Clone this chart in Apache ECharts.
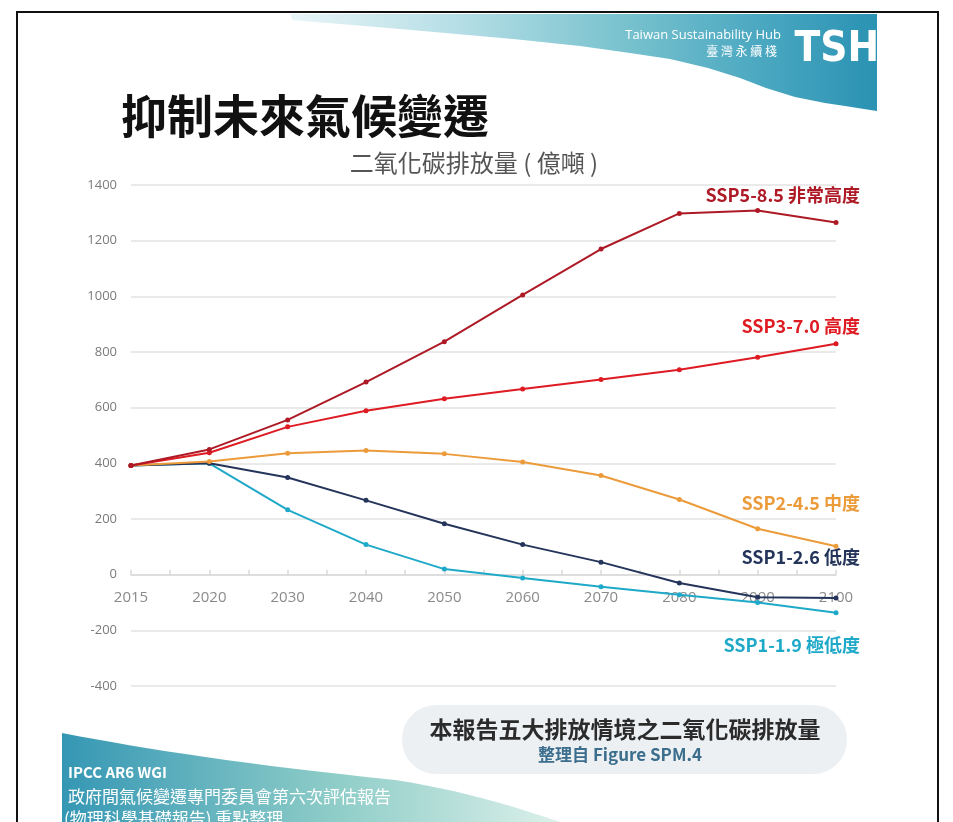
<!DOCTYPE html>
<html>
<head>
<meta charset="utf-8">
<script src="https://cdn.jsdelivr.net/npm/echarts@6/dist/echarts.min.js"></script>
<style>
  html, body { margin: 0; padding: 0; background: #fff; }
  #main { width: 953px; height: 822px; }
</style>
</head>
<body>
<div id="main"></div>
<script>
// x 軸年份 (等距)
var years = ['2015', '2020', '2030', '2040', '2050', '2060', '2070', '2080', '2090', '2100'];
var yTicks = [-400, -200, 0, 200, 400, 600, 800, 1000, 1200, 1400];

// 二氧化碳排放量 (億噸)
var ssp585 = [392, 450, 556, 692, 837, 1005, 1170, 1298, 1308, 1265];
var ssp370 = [392, 438, 531, 589, 632, 667, 701, 736, 781, 830];
var ssp245 = [392, 407, 436, 446, 434, 405, 356, 270, 165, 102];
var ssp126 = [392, 400, 349, 267, 183, 108, 45, -30, -81, -84];
var ssp119 = [392, 400, 233, 108, 20, -12, -43, -72, -100, -137];

var names = ['SSP5-8.5 非常高度', 'SSP3-7.0 高度', 'SSP2-4.5 中度', 'SSP1-2.6 低度', 'SSP1-1.9 極低度'];
var colors = ['#ad1a26', '#de1a22', '#ec9b3b', '#24345a', '#1fa9c9'];
var values = [ssp585, ssp370, ssp245, ssp126, ssp119];
var labelY = [195, 326, 503, 557, 645];

var cjk = '"Noto Sans CJK TC", "Noto Sans", sans-serif';

var gridTop = 185, gridBottom = 136, chartH = 822;

function toPoints(arr) {
    return arr.map(function (v, i) { return [i, v]; });
}

function hGrad(stops) {
    return {
        type: 'linear', x: 0, y: 0, x2: 1, y2: 0,
        colorStops: stops.map(function (s) { return { offset: s[0], color: s[1] }; })
    };
}

// 三次貝茲取樣, 給裝飾色塊用
function bez(p0, p1, p2, p3, n) {
    var out = [];
    for (var k = 1; k <= n; k++) {
        var t = k / n, u = 1 - t;
        out.push([
            u * u * u * p0[0] + 3 * u * u * t * p1[0] + 3 * u * t * t * p2[0] + t * t * t * p3[0],
            u * u * u * p0[1] + 3 * u * u * t * p1[1] + 3 * u * t * t * p2[1] + t * t * t * p3[1]
        ]);
    }
    return out;
}

// 右上色帶外形 (下緣由右往左)
var bannerPts = [[290, 14], [877, 14], [877, 111], [864, 109], [845, 106], [825, 103], [795, 97],
    [766, 88], [740, 78], [708, 68], [670, 59], [630, 53], [580, 46], [513, 39], [400, 29], [292, 20]];

var cornerPts = [[62, 733]]
    .concat(bez([62, 733], [150, 750], [250, 765], [395, 780], 16))
    .concat(bez([395, 780], [460, 790], [510, 805], [560, 822], 12))
    .concat([[62, 822]]);

var series = values.map(function (arr, i) {
    return {
        name: names[i],
        type: 'line',
        data: toPoints(arr),
        symbol: 'circle',
        symbolSize: 5,
        lineStyle: { color: colors[i], width: 2 },
        itemStyle: { color: colors[i] },
        z: 10 - i
    };
});

// 版面裝飾
var graphics = [
    {   // 右上波浪色帶
        type: 'polygon',
        shape: { points: bannerPts },
        style: { fill: hGrad([[0, '#e8f5f7'], [0.3, '#b3dde5'], [0.55, '#7cc4cf'], [0.8, '#4ba8c1'], [1, '#2a92b3']]) },
        z: 1
    },
    {
        type: 'text', x: 781, y: 35,
        style: { text: 'Taiwan Sustainability Hub', fill: '#fff', font: '13px "Open Sans", sans-serif', align: 'right', verticalAlign: 'middle' },
        z: 2
    },
    {
        type: 'text', x: 777, y: 51,
        style: { text: '臺 灣 永 續 棧', fill: '#fff', font: '12px ' + cjk, align: 'right', verticalAlign: 'middle' },
        z: 2
    },
    {
        type: 'text', x: 879, y: 50,
        style: { text: 'TSH', fill: '#fff', font: 'bold 42px "DejaVu Sans Condensed", "DejaVu Sans", sans-serif', align: 'right', verticalAlign: 'middle' },
        z: 2
    },
    {
        type: 'text', x: 121, y: 116,
        style: { text: '抑制未來氣候變遷', fill: '#111', font: 'bold 46px ' + cjk, align: 'left', verticalAlign: 'middle' },
        z: 2
    },
    {
        type: 'text', x: 474, y: 163,
        style: { text: '二氧化碳排放量 ( 億噸 )', fill: '#555', font: '24px ' + cjk, align: 'center', verticalAlign: 'middle' },
        z: 2
    },
    {   // 左下色塊
        type: 'polygon',
        shape: { points: cornerPts },
        style: { fill: hGrad([[0, '#3597b4'], [0.55, '#8fcdc8'], [1, '#dcf0ea']]) },
        z: 1
    },
    {
        type: 'text', x: 68, y: 772,
        style: { text: 'IPCC AR6 WGI', fill: '#fff', font: 'bold 15px ' + cjk, align: 'left', verticalAlign: 'middle' },
        z: 2
    },
    {
        type: 'text', x: 68, y: 797,
        style: { text: '政府間氣候變遷專門委員會第六次評估報告', fill: '#fff', font: '17px ' + cjk, align: 'left', verticalAlign: 'middle' },
        z: 2
    },
    {
        type: 'text', x: 64, y: 819,
        style: { text: '(物理科學基礎報告) 重點整理', fill: '#fff', font: '17px ' + cjk, align: 'left', verticalAlign: 'middle' },
        z: 2
    },
    {   // 說明框
        type: 'rect',
        shape: { x: 402, y: 705, width: 445, height: 69, r: 34 },
        style: { fill: '#edf0f3' },
        z: 1
    },
    {
        type: 'text', x: 625, y: 729,
        style: { text: '本報告五大排放情境之二氧化碳排放量', fill: '#2b2b2b', font: 'bold 23px ' + cjk, align: 'center', verticalAlign: 'middle' },
        z: 2
    },
    {
        type: 'text', x: 620, y: 755,
        style: { text: '整理自 Figure SPM.4', fill: '#3b6d8c', font: 'bold 17px ' + cjk, align: 'center', verticalAlign: 'middle' },
        z: 2
    },
    {   // 外框
        type: 'rect',
        shape: { x: 17, y: 12, width: 921, height: 830 },
        style: { fill: 'none', stroke: '#111', lineWidth: 2 },
        z: 3
    }
];

names.forEach(function (n, i) {
    graphics.push({
        type: 'text', x: 860, y: labelY[i],
        style: { text: n, fill: colors[i], font: 'bold 18px ' + cjk, align: 'right', verticalAlign: 'middle' },
        z: 2
    });
});

// x 軸放在 0 的位置: 由格線高度算出往上的偏移
var yMin = yTicks[0], yMax = yTicks[yTicks.length - 1];
var plotH = chartH - gridTop - gridBottom;
var zeroOffset = -plotH * (0 - yMin) / (yMax - yMin);

var option = {
    backgroundColor: '#fff',
    animation: false,
    grid: {
        left: 131,
        right: 117,
        top: gridTop,
        bottom: gridBottom,
        containLabel: false,
        outerBoundsMode: 'none'
    },
    xAxis: {
        type: 'value',
        position: 'bottom',
        offset: zeroOffset,
        min: 0,
        max: years.length - 1,
        interval: 0.5,
        axisLine: { onZero: false, lineStyle: { color: '#d9d9d9', width: 1.5 } },
        axisTick: { show: true, inside: true, length: 5, lineStyle: { color: '#d9d9d9', width: 1.5 } },
        axisLabel: {
            color: '#8a8a8a',
            fontSize: 15,
            fontFamily: '"Open Sans", sans-serif',
            margin: 16,
            formatter: function (v) {
                return Number.isInteger(v) ? years[v] : '';
            }
        },
        splitLine: { show: false }
    },
    yAxis: {
        type: 'value',
        min: yMin,
        max: yMax,
        interval: 200,
        axisLine: { show: false },
        axisTick: { show: false },
        axisLabel: {
            color: '#7a7a7a',
            fontSize: 13,
            fontFamily: '"Open Sans", sans-serif',
            margin: 14,
            formatter: function (v) { return String(v); }
        },
        splitLine: { lineStyle: { color: '#e3e3e3', width: 1.5 } }
    },
    graphic: graphics,
    series: series
};

var chart = echarts.init(document.getElementById('main'), null, { renderer: 'canvas' });
chart.setOption(option);
</script>
</body>
</html>
